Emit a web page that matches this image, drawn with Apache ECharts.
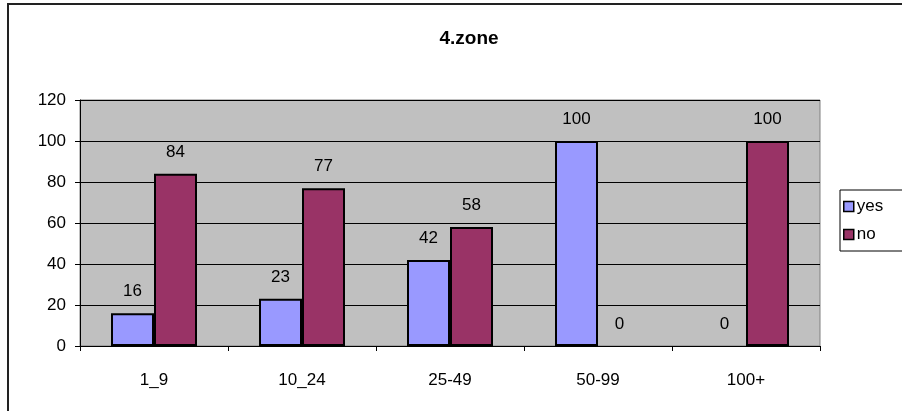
<!DOCTYPE html>
<html>
<head>
<meta charset="utf-8">
<script src="https://cdn.jsdelivr.net/npm/echarts@6/dist/echarts.min.js"></script>
<style>
  html, body { margin: 0; padding: 0; background: #fff; }
  #chart { width: 902px; height: 411px; }
</style>
</head>
<body>
<div id="chart"></div>
<script>
// Chart data
const categories = ['1_9', '10_24', '25-49', '50-99', '100+'];
const yesValues = [16, 23, 42, 100, 0];
const noValues = [84, 77, 58, 0, 100];
const yTicks = [0, 20, 40, 60, 80, 100, 120];

const FONT = '"Liberation Sans", Arial, sans-serif';
const TEXT_SIZE = 17;

const chart = echarts.init(document.getElementById('chart'), null, { renderer: 'canvas' });

const labelStyle = {
  show: true,
  position: 'top',
  distance: 13,
  color: '#000',
  fontSize: TEXT_SIZE,
  fontFamily: FONT
};

// Zero-height bars carry no outline, only their value label
function barItems(values) {
  return values.map(v => (v === 0 ? { value: v, itemStyle: { borderWidth: 0 } } : v));
}

chart.setOption({
  animation: false,
  backgroundColor: '#fff',
  graphic: [{
    type: 'rect',
    shape: { x: 8, y: 4, width: 1000, height: 500 },
    style: { fill: 'none', stroke: '#222', lineWidth: 2 },
    silent: true,
    z: 100
  }],
  title: {
    text: '4.zone',
    left: 464,
    top: 24,
    textAlign: 'center',
    textStyle: { fontFamily: FONT, fontWeight: 'bold', fontSize: 19, color: '#000' }
  },
  legend: {
    orient: 'vertical',
    left: 840,
    top: 190,
    padding: [8, 60, 8, 3],
    itemWidth: 10,
    itemHeight: 10,
    itemGap: 11,
    borderColor: '#000',
    borderWidth: 1,
    icon: 'rect',
    itemStyle: { borderColor: '#000', borderWidth: 1.5 },
    textStyle: { fontFamily: FONT, fontSize: TEXT_SIZE, color: '#000', padding: [0, 0, 0, -2] },
    data: ['yes', 'no']
  },
  grid: {
    left: 80,
    right: 82,
    top: 100,
    bottom: 65,
    show: true,
    backgroundColor: '#C0C0C0',
    borderColor: '#808080',
    borderWidth: 1
  },
  xAxis: {
    type: 'category',
    data: categories,
    axisLine: { lineStyle: { color: '#000', width: 1 } },
    axisTick: { show: true, alignWithLabel: false, length: 5, lineStyle: { color: '#000' } },
    axisLabel: { margin: 26, color: '#000', fontSize: TEXT_SIZE, fontFamily: FONT }
  },
  yAxis: {
    type: 'value',
    min: yTicks[0],
    max: yTicks[yTicks.length - 1],
    interval: yTicks[1] - yTicks[0],
    axisLine: { show: true, lineStyle: { color: '#000', width: 1 } },
    axisTick: { show: true, length: 5, lineStyle: { color: '#000' } },
    axisLabel: { margin: 14, color: '#000', fontSize: TEXT_SIZE, fontFamily: FONT },
    splitLine: { show: true, lineStyle: { color: '#000', width: 1 } }
  },
  series: [
    {
      name: 'yes',
      type: 'bar',
      data: barItems(yesValues),
      barWidth: 43,
      barGap: '0%',
      itemStyle: { color: '#9999FF', borderColor: '#000', borderWidth: 2 },
      label: labelStyle
    },
    {
      name: 'no',
      type: 'bar',
      data: barItems(noValues),
      barWidth: 43,
      barGap: '0%',
      itemStyle: { color: '#993366', borderColor: '#000', borderWidth: 2 },
      label: labelStyle
    }
  ]
});
</script>
</body>
</html>
